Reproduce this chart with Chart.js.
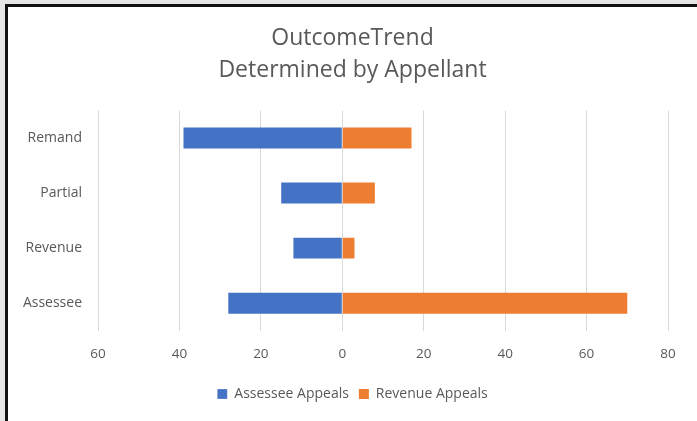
<!DOCTYPE html>
<html>
<head>
<meta charset="utf-8">
<script src="https://cdn.jsdelivr.net/npm/chart.js@4.4.1/dist/chart.umd.min.js"></script>
<style>
  html, body { margin: 0; padding: 0; background: #e6e6e6; }
  #frame {
    position: absolute; left: 5px; top: 4px;
    width: 689px; height: 414px;
    background: #fff;
    border-left: 3px solid #111;
    border-top: 3px solid #111;
  }
  #chart { display: block; }
</style>
</head>
<body>
<div id="frame"><canvas id="chart" width="689" height="414"></canvas></div>
<script>
// categories top to bottom
const categories = ['Remand', 'Partial', 'Revenue', 'Assessee'];
// assessee appeals drawn to the left of zero
const assesseeAppeals = [-39, -15, -12, -28];
const revenueAppeals = [17, 8, 3, 70];
const titleLines = ['OutcomeTrend', 'Determined by Appellant'];

const textColor = '#595959';
const fontName = '"Open Sans", "Noto Sans", sans-serif';

new Chart(document.getElementById('chart'), {
    type: 'bar',
    data: {
        labels: categories,
        datasets: [
            {
                label: 'Assessee Appeals',
                data: assesseeAppeals,
                backgroundColor: '#4472C4',
                borderColor: '#ffffff',
                borderWidth: { right: 1 }
            },
            {
                label: 'Revenue Appeals',
                data: revenueAppeals,
                backgroundColor: '#ED7D31'
            }
        ]
    },
    options: {
        indexAxis: 'y',
        responsive: false,
        animation: false,
        layout: { padding: { left: 0, right: 0, top: 10, bottom: 10 } },
        datasets: { bar: { categoryPercentage: 1, barPercentage: 0.38 } },
        scales: {
            x: {
                stacked: true,
                min: -60,
                max: 80,
                ticks: {
                    stepSize: 20,
                    color: textColor,
                    font: { family: fontName, size: 13.5 },
                    padding: 15,
                    callback: v => Math.abs(v)
                },
                grid: { color: '#d9d9d9', lineWidth: 1, drawTicks: false },
                border: { display: false }
            },
            y: {
                stacked: true,
                ticks: {
                    color: textColor,
                    font: { family: fontName, size: 14 },
                    padding: 8
                },
                grid: { display: false },
                border: { display: false },
                afterFit: scale => { scale.width = 90; }
            },
            // empty right axis, only keeps a margin so title/legend stay centred on the canvas
            yRight: {
                position: 'right',
                display: true,
                ticks: { display: false },
                grid: { display: false },
                border: { display: false },
                afterFit: scale => { scale.width = 29; }
            }
        },
        plugins: {
            title: {
                display: true,
                text: titleLines,
                color: textColor,
                font: { family: fontName, size: 23, weight: 'normal', lineHeight: 1.4 },
                padding: { top: 5, bottom: 24 }
            },
            legend: {
                position: 'bottom',
                labels: {
                    color: textColor,
                    font: { family: fontName, size: 14 },
                    boxWidth: 10,
                    boxHeight: 10,
                    padding: 10
                }
            },
            tooltip: { enabled: false }
        }
    }
});
</script>
</body>
</html>
